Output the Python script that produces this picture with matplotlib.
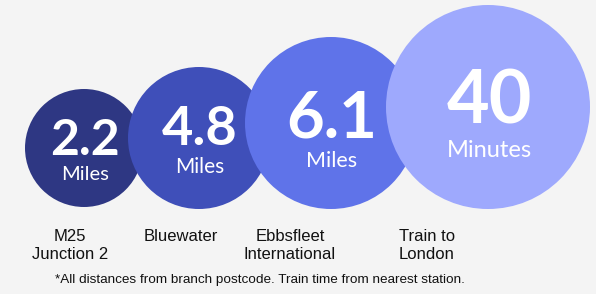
import matplotlib
matplotlib.use("Agg")
import matplotlib.pyplot as plt
from matplotlib.patches import Circle

# data
values = ["2.2", "4.8", "6.1", "40"]
units = ["Miles", "Miles", "Miles", "Minutes"]
places = ["M25\nJunction 2", "Bluewater", "Ebbsfleet\nInternational", "Train to\nLondon"]
note = "*All distances from branch postcode. Train time from nearest station."

# layout (pixels)
centers = [(84, 148), (199, 138), (331, 123), (488, 107)]
radii = [59, 71, 86, 102]
colors = ["#2e3783", "#3f4fb9", "#5f73e9", "#9ea9fd"]
value_sizes = [36, 39, 47, 53]
unit_sizes = [14.5, 15, 15.5, 17]
value_base = [155, 145, 137, 123]
unit_base = [180, 173, 167, 157]
label_x = [70, 181, 290, 427]

fig = plt.figure(figsize=(5.96, 2.94), dpi=100, facecolor="#f4f4f4")
ax = fig.add_axes([0, 0, 1, 1])
ax.set_xlim(0, 596)
ax.set_ylim(294, 0)
ax.set_aspect("equal")
ax.axis("off")

for i in range(len(values)):
    cx, cy = centers[i]
    ax.add_patch(Circle((cx, cy), radii[i], color=colors[i], zorder=i + 1, lw=0))
    ax.text(cx + 1, value_base[i], values[i], color="white", fontsize=value_sizes[i],
            fontweight="bold", family="Lato", ha="center", va="baseline", zorder=10)
    ax.text(cx + 1, unit_base[i], units[i], color="white", fontsize=unit_sizes[i],
            family="Lato", ha="center", va="baseline", zorder=10)
    ax.text(label_x[i], 229, places[i], color="#111111", fontsize=12,
            family="Liberation Sans", ha="center", va="top", multialignment="center",
            linespacing=1.25)

ax.text(260, 280, note, color="#111111", fontsize=9.7, family="Liberation Sans",
        ha="center", va="center")

fig.savefig("out.png", dpi=100, facecolor=fig.get_facecolor())
